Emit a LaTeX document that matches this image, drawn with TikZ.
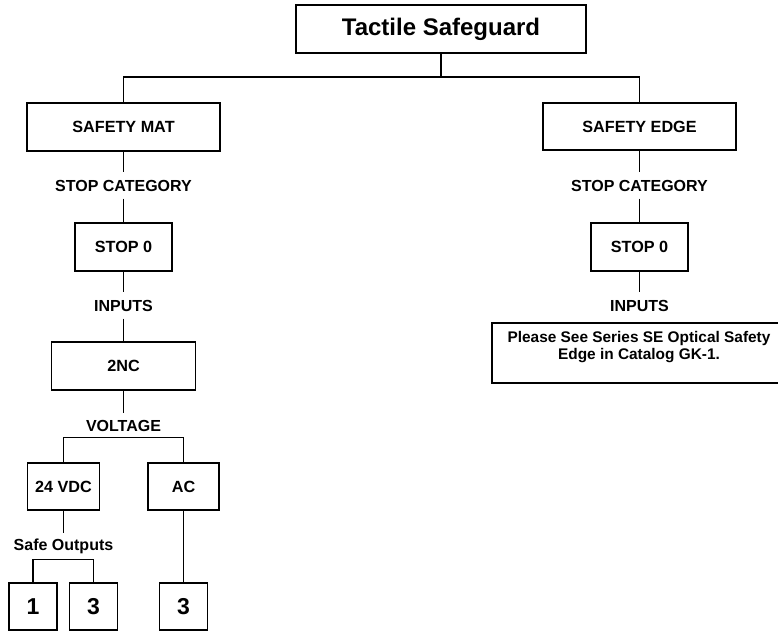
\documentclass[tikz,border=0pt]{standalone}
\usepackage{fontspec}
\setmainfont{Liberation Sans}
\begin{document}
\begin{tikzpicture}[x=1pt,y=-1pt,
  line width=1.3pt,
  boxnode/.style={draw,inner sep=0pt,font=\bfseries\fontsize{16.2}{19}\selectfont},
  bignum/.style={draw,inner sep=0pt,minimum width=48pt,minimum height=47pt,font=\bfseries\fontsize{23}{26}\selectfont},
  lbl/.style={inner sep=0pt,minimum height=25pt,font=\bfseries\fontsize{16}{19}\selectfont}]
\useasboundingbox (0,0) rectangle (778,631);
\clip (0,0) rectangle (778,631);
% top
\node[boxnode,minimum width=290pt,minimum height=48pt,font=\bfseries\fontsize{24}{27}\selectfont] (top) at (441,29) {Tactile Safeguard};
\coordinate (j) at (441,77);
% left branch
\node[boxnode,minimum width=193pt,minimum height=48pt] (mat) at (123.5,127) {SAFETY MAT};
\node[lbl] (scl) at (123.5,185.5) {STOP CATEGORY};
\node[boxnode,minimum width=97pt,minimum height=48pt] (s0l) at (123.5,247) {STOP 0};
\node[lbl] (inl) at (123.5,305.5) {INPUTS};
\node[boxnode,minimum width=144pt,minimum height=48pt] (nc) at (123.5,366) {2NC};
\node[lbl,minimum height=23pt] (volt) at (123.5,425.5) {VOLTAGE};
\node[boxnode,minimum width=72pt,minimum height=47pt] (vdc) at (63.5,486.5) {24 VDC};
\node[boxnode,minimum width=71pt,minimum height=47pt] (ac) at (183.5,486.5) {AC};
\node[lbl] (safe) at (63.5,546.5) {Safe Outputs};
\node[bignum] (o1) at (33,606.5) {1};
\node[bignum] (o3) at (93.5,606.5) {3};
\node[bignum] (o3b) at (183.5,606.5) {3};
% right branch
\node[boxnode,minimum width=193pt,minimum height=47pt] (edge) at (639.5,126.5) {SAFETY EDGE};
\node[lbl] (scr) at (639.5,185.5) {STOP CATEGORY};
\node[boxnode,minimum width=97pt,minimum height=48pt] (s0r) at (639.5,247) {STOP 0};
\node[lbl] (inr) at (639.5,305.5) {INPUTS};
\node[draw,inner sep=0pt,minimum width=296pt,minimum height=60pt] (note) at (640,353) {};
\node[inner sep=0pt,align=center,font=\bfseries\fontsize{15.4}{17}\selectfont] (notetext) at (639,347) {Please See Series SE Optical Safety\\Edge in Catalog GK-1.};
% connectors
\draw (top.south) -- (j);
\draw (mat.north) |- (j) -| (edge.north);
\draw (mat.south) -- (scl.north);
\draw (scl.south) -- (s0l.north);
\draw (s0l.south) -- (inl.north);
\draw (inl.south) -- (nc.north);
\draw (nc.south) -- (volt.north);
\draw (vdc.north) |- (volt.south) -| (ac.north);
\draw (vdc.south) -- (safe.north);
\draw (o1.north) |- (safe.south) -| (o3.north);
\draw (ac.south) -- (o3b.north);
\draw (edge.south) -- (scr.north);
\draw (scr.south) -- (s0r.north);
\draw (s0r.south) -- (inr.north);
\end{tikzpicture}
\end{document}
